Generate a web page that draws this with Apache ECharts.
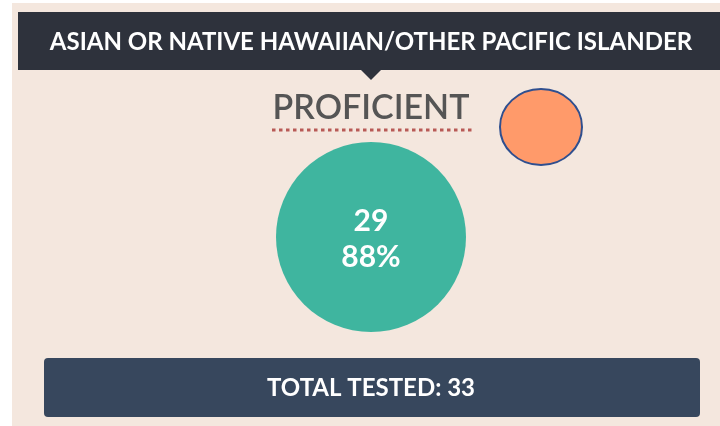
<!DOCTYPE html>
<html>
<head>
<meta charset="utf-8">
<script src="https://cdn.jsdelivr.net/npm/echarts@6/dist/echarts.min.js"></script>
<style>
  html, body { margin: 0; padding: 0; background: #ffffff; }
  #main { width: 720px; height: 426px; }
</style>
</head>
<body>
<div id="main"></div>
<script>
  // data
  var groupName = 'ASIAN OR NATIVE HAWAIIAN/OTHER PACIFIC ISLANDER';
  var levelName = 'PROFICIENT';
  var proficientCount = [29];
  var totalTested = [33];

  var pct = Math.round(proficientCount[0] / totalTested[0] * 100);

  var chart = echarts.init(document.getElementById('main'));

  var option = {
    backgroundColor: '#ffffff',
    animation: false,
    graphic: [
      // beige panel
      { type: 'rect', shape: { x: 12, y: 3, width: 708, height: 423 }, style: { fill: '#f4e7de' }, z: 0 },
      // header bar
      { type: 'rect', shape: { x: 18, y: 12, width: 702, height: 58 }, style: { fill: '#2e323c' }, z: 1 },
      { type: 'polygon', shape: { points: [[361, 70], [381, 70], [371, 80]] }, style: { fill: '#2e323c' }, z: 1 },
      {
        type: 'text', x: 371, y: 42, z: 2,
        style: {
          text: groupName, fill: '#ffffff', align: 'center', verticalAlign: 'middle',
          font: 'bold 24px Lato'
        }
      },
      // level title
      {
        type: 'text', x: 371, y: 108, z: 2,
        style: {
          text: levelName, fill: '#555555', align: 'center', verticalAlign: 'middle',
          font: '600 34px Lato'
        }
      },
      {
        type: 'line', z: 2,
        shape: { x1: 272, y1: 130, x2: 472, y2: 130 },
        style: { stroke: '#b85a56', lineWidth: 3, lineDash: [3.5, 3.5] }
      },
      // orange ellipse
      {
        type: 'ellipse', z: 2,
        shape: { cx: 541, cy: 127, rx: 41, ry: 38 },
        style: { fill: '#ff9a6a', stroke: '#2f4f8f', lineWidth: 2 }
      },
      // total tested bar
      {
        type: 'rect', z: 1,
        shape: { x: 44, y: 358, width: 656, height: 59, r: 4 },
        style: { fill: '#37475d' }
      },
      {
        type: 'text', x: 371, y: 388, z: 2,
        style: {
          text: 'TOTAL TESTED: ' + totalTested[0], fill: '#ffffff', align: 'center', verticalAlign: 'middle',
          font: 'bold 24px Lato'
        }
      }
    ],
    series: [{
      type: 'pie',
      center: [371, 237],
      radius: [0, 95],
      silent: true,
      itemStyle: { color: '#3fb59f' },
      label: {
        show: true,
        position: 'center',
        offset: [0, 2],
        formatter: function (p) { return p.value + '\n' + pct + '%'; },
        color: '#ffffff',
        fontFamily: 'Lato',
        fontWeight: 'bold',
        fontSize: 30,
        lineHeight: 36
      },
      labelLine: { show: false },
      data: [{ value: proficientCount[0], name: levelName }]
    }]
  };

  chart.setOption(option);
</script>
</body>
</html>
